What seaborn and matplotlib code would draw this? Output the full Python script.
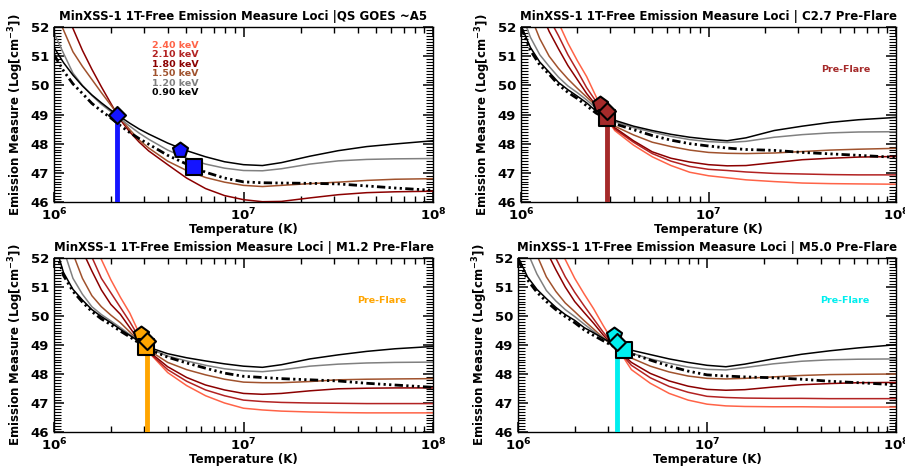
import matplotlib
matplotlib.use("Agg")
import matplotlib.pyplot as plt
import numpy as np
import pandas as pd
import seaborn as sns
from matplotlib.ticker import FixedLocator, LogLocator, MultipleLocator, NullFormatter

sns.set_style("ticks")
plt.rcParams["font.family"] = ["DejaVu Sans"]
plt.rcParams["font.weight"] = "bold"
plt.rcParams["mathtext.fontset"] = "dejavusans"
for key in ["text.color", "axes.labelcolor", "xtick.color", "ytick.color", "axes.edgecolor"]:
    plt.rcParams[key] = "black"
plt.rcParams["xtick.direction"] = "in"
plt.rcParams["ytick.direction"] = "in"

# temperature grid (log10 K) shared by all loci curves
log_temp = [6.0, 6.05, 6.1, 6.15, 6.2, 6.25, 6.3, 6.35, 6.4, 6.45, 6.5, 6.6, 6.7,
            6.8, 6.9, 7.0, 7.1, 7.2, 7.35, 7.5, 7.65, 7.8, 8.0]

energies = ["2.40 keV", "2.10 keV", "1.80 keV", "1.50 keV", "1.20 keV", "0.90 keV"]
energy_colors = ["#ff6347", "#b22222", "#8b0000", "#a0522d", "#808080", "#000000"]

# --- QS GOES ~A5 (only 4 loci) ---
qs_090 = [51.3, 50.78, 50.35, 49.98, 49.67, 49.4, 49.15, 48.92, 48.7, 48.5, 48.33, 48.02, 47.76,
          47.55, 47.38, 47.28, 47.25, 47.35, 47.57, 47.76, 47.9, 47.99, 48.1]
qs_120 = [51.8, 51.1, 50.42, 50.0, 49.65, 49.35, 49.1, 48.85, 48.6, 48.36, 48.15, 47.78, 47.5,
          47.3, 47.16, 47.08, 47.07, 47.14, 47.3, 47.41, 47.46, 47.48, 47.49]
qs_150 = [52.6, 51.9, 51.15, 50.65, 50.2, 49.75, 49.32, 48.88, 48.48, 48.12, 47.85, 47.4, 47.08,
          46.84, 46.68, 46.57, 46.53, 46.57, 46.63, 46.68, 46.74, 46.78, 46.8]
qs_180 = [53.5, 52.65, 51.95, 51.2, 50.55, 49.95, 49.38, 48.82, 48.4, 48.05, 47.75, 47.28, 46.82,
          46.46, 46.22, 46.08, 46.01, 46.02, 46.14, 46.25, 46.32, 46.35, 46.37]
qs_dash = [51.05, 50.5, 50.05, 49.72, 49.38, 49.12, 48.88, 48.62, 48.38, 48.17, 47.98, 47.6, 47.3,
           47.02, 46.82, 46.69, 46.66, 46.65, 46.64, 46.62, 46.55, 46.48, 46.4]

# --- C2.7 pre-flare ---
c27_090 = [52.05, 51.3, 50.8, 50.45, 50.1, 49.85, 49.63, 49.4, 49.12, 48.95, 48.8, 48.6, 48.45,
           48.32, 48.22, 48.15, 48.1, 48.2, 48.45, 48.6, 48.73, 48.82, 48.9]
c27_120 = [52.5, 51.65, 51.05, 50.65, 50.28, 49.98, 49.75, 49.5, 49.22, 48.95, 48.75, 48.55, 48.4,
           48.25, 48.14, 48.07, 48.04, 48.08, 48.22, 48.31, 48.37, 48.4, 48.41]
c27_150 = [53.2, 52.4, 51.6, 51.0, 50.58, 50.22, 49.9, 49.6, 49.3, 48.93, 48.6, 48.3, 48.05,
           47.9, 47.78, 47.7, 47.67, 47.66, 47.68, 47.73, 47.78, 47.81, 47.84]
c27_180 = [54.0, 53.3, 52.6, 51.85, 51.25, 50.68, 50.2, 49.72, 49.32, 48.92, 48.55, 48.1, 47.72,
           47.5, 47.37, 47.28, 47.24, 47.25, 47.35, 47.45, 47.5, 47.54, 47.56]
c27_210 = [54.5, 53.8, 53.0, 52.3, 51.7, 51.05, 50.5, 49.92, 49.45, 48.92, 48.5, 48.05, 47.66,
           47.4, 47.22, 47.12, 47.08, 47.03, 46.98, 46.96, 46.94, 46.93, 46.93]
c27_240 = [55.0, 54.3, 53.6, 52.9, 52.15, 51.45, 50.85, 50.3, 49.62, 48.93, 48.45, 47.95, 47.55,
           47.25, 47.02, 46.9, 46.83, 46.76, 46.7, 46.65, 46.63, 46.62, 46.61]
c27_dash = [52.0, 51.2, 50.7, 50.38, 50.02, 49.76, 49.55, 49.3, 49.05, 48.88, 48.68, 48.48, 48.28,
            48.12, 48.0, 47.92, 47.85, 47.8, 47.77, 47.7, 47.65, 47.6, 47.53]

# --- M1.2 pre-flare ---
m12_090 = [52.6, 51.5, 50.92, 50.55, 50.22, 49.98, 49.77, 49.54, 49.33, 49.12, 48.92, 48.7, 48.56,
           48.45, 48.35, 48.27, 48.23, 48.32, 48.52, 48.66, 48.78, 48.87, 48.95]
m12_120 = [53.0, 52.3, 51.3, 50.75, 50.32, 50.05, 49.83, 49.6, 49.36, 49.12, 48.88, 48.62, 48.45,
           48.3, 48.18, 48.11, 48.08, 48.14, 48.27, 48.34, 48.38, 48.4, 48.41]
m12_150 = [53.5, 52.8, 52.15, 51.3, 50.7, 50.32, 50.03, 49.77, 49.45, 49.12, 48.82, 48.4, 48.15,
           47.97, 47.82, 47.72, 47.7, 47.7, 47.74, 47.8, 47.82, 47.83, 47.84]
m12_180 = [54.3, 53.6, 52.9, 52.25, 51.55, 50.9, 50.4, 50.06, 49.6, 49.15, 48.78, 48.25, 47.88,
           47.62, 47.45, 47.33, 47.3, 47.33, 47.42, 47.49, 47.51, 47.52, 47.52]
m12_210 = [54.8, 54.1, 53.4, 52.7, 52.03, 51.3, 50.8, 50.3, 49.8, 49.25, 48.75, 48.15, 47.75,
           47.45, 47.25, 47.1, 47.05, 47.02, 47.0, 46.99, 46.98, 46.98, 46.98]
m12_240 = [55.3, 54.6, 53.9, 53.2, 52.6, 51.95, 51.25, 50.65, 50.1, 49.4, 48.75, 48.05, 47.6,
           47.25, 47.0, 46.82, 46.76, 46.72, 46.69, 46.67, 46.66, 46.66, 46.66]
m12_dash = [52.45, 51.4, 50.85, 50.48, 50.15, 49.9, 49.7, 49.48, 49.28, 49.06, 48.85, 48.58, 48.38,
            48.2, 48.03, 47.92, 47.88, 47.84, 47.8, 47.76, 47.68, 47.62, 47.54]

# --- M5.0 pre-flare ---
m50_090 = [52.05, 51.35, 50.92, 50.6, 50.3, 50.05, 49.85, 49.6, 49.42, 49.23, 49.05, 48.82, 48.67,
           48.52, 48.4, 48.3, 48.25, 48.34, 48.52, 48.68, 48.8, 48.9, 49.01]
m50_120 = [52.9, 52.2, 51.45, 50.88, 50.52, 50.22, 49.98, 49.72, 49.47, 49.24, 49.02, 48.72, 48.52,
           48.37, 48.24, 48.16, 48.14, 48.22, 48.35, 48.44, 48.49, 48.51, 48.52]
m50_150 = [53.5, 52.8, 52.1, 51.35, 50.85, 50.45, 50.15, 49.84, 49.55, 49.25, 48.98, 48.55, 48.27,
           48.07, 47.93, 47.85, 47.83, 47.85, 47.9, 47.95, 47.98, 47.99, 48.0]
m50_180 = [54.3, 53.6, 52.9, 52.25, 51.6, 51.0, 50.5, 50.12, 49.75, 49.35, 49.0, 48.4, 48.02,
           47.76, 47.58, 47.47, 47.44, 47.46, 47.55, 47.63, 47.67, 47.7, 47.71]
m50_210 = [54.8, 54.1, 53.4, 52.7, 52.0, 51.35, 50.82, 50.35, 49.9, 49.45, 49.05, 48.3, 47.87,
           47.57, 47.37, 47.23, 47.19, 47.17, 47.16, 47.16, 47.15, 47.15, 47.15]
m50_240 = [55.3, 54.6, 53.9, 53.2, 52.6, 51.95, 51.3, 50.76, 50.25, 49.68, 49.15, 48.15, 47.68,
           47.33, 47.1, 46.96, 46.9, 46.88, 46.87, 46.87, 46.86, 46.86, 46.86]
m50_dash = [51.95, 51.25, 50.82, 50.5, 50.22, 49.98, 49.77, 49.52, 49.33, 49.15, 48.97, 48.7, 48.48,
            48.27, 48.1, 47.97, 47.93, 47.9, 47.87, 47.82, 47.75, 47.7, 47.63]

# markers: pentagon, square, diamond (T in K, log EM); bar drawn at the diamond
qs_marker_t = [4.60e6, 5.50e6, 2.15e6]
qs_marker_em = [47.79, 47.19, 48.98]
c27_marker_t = [2.64e6, 2.88e6, 2.88e6]
c27_marker_em = [49.37, 48.89, 49.12]
m12_marker_t = [2.89e6, 3.05e6, 3.08e6]
m12_marker_em = [49.38, 48.92, 49.15]
m50_marker_t = [3.21e6, 3.64e6, 3.33e6]
m50_marker_em = [49.36, 48.84, 49.10]

titles = ["MinXSS-1 1T-Free Emission Measure Loci |QS GOES ~A5",
          "MinXSS-1 1T-Free Emission Measure Loci | C2.7 Pre-Flare",
          "MinXSS-1 1T-Free Emission Measure Loci | M1.2 Pre-Flare",
          "MinXSS-1 1T-Free Emission Measure Loci | M5.0 Pre-Flare"]
panel_colors = ["#1414ff", "#a52a2a", "#ffa500", "#00eeee"]

temps = 10 ** np.array(log_temp)

panels = [
    ([None, None, qs_180, qs_150, qs_120, qs_090], qs_dash, qs_marker_t, qs_marker_em),
    ([c27_240, c27_210, c27_180, c27_150, c27_120, c27_090], c27_dash, c27_marker_t, c27_marker_em),
    ([m12_240, m12_210, m12_180, m12_150, m12_120, m12_090], m12_dash, m12_marker_t, m12_marker_em),
    ([m50_240, m50_210, m50_180, m50_150, m50_120, m50_090], m50_dash, m50_marker_t, m50_marker_em),
]

fig = plt.figure(figsize=(9.05, 4.70), dpi=100)
axes_rects = [[54 / 905, 1 - 202 / 470, 379 / 905, 175 / 470],
              [521 / 905, 1 - 202 / 470, 375 / 905, 175 / 470],
              [54 / 905, 1 - 432 / 470, 379 / 905, 174 / 470],
              [518 / 905, 1 - 432 / 470, 378 / 905, 174 / 470]]

for i, (curves, dash, mk_t, mk_em) in enumerate(panels):
    ax = fig.add_axes(axes_rects[i])
    col = panel_colors[i]
    for em, c in zip(curves, energy_colors):
        if em is None:
            continue
        df = pd.DataFrame({"T": temps, "EM": em})
        sns.lineplot(data=df, x="T", y="EM", ax=ax, color=c, lw=1.1,
                     estimator=None, sort=False, zorder=2)
    sns.lineplot(x=temps, y=dash, ax=ax, color="black", lw=2.0, estimator=None,
                 sort=False, zorder=3, linestyle=(0, (3, 1.2, 0.8, 1.2, 0.8, 1.2, 0.8, 1.2)))
    ax.vlines(mk_t[2], 46, mk_em[2], color=col, lw=3.5, zorder=4)
    for t, e, m, s in zip(mk_t, mk_em, ["p", "s", "D"], [130, 130, 75]):
        sns.scatterplot(x=[t], y=[e], ax=ax, marker=m, s=s, color=col,
                        edgecolor="black", linewidth=1.5, zorder=5)

    ax.set_xscale("log")
    ax.set_xlim(1e6, 1e8)
    ax.set_ylim(46, 52)
    ax.xaxis.set_major_locator(FixedLocator([1e6, 1e7, 1e8]))
    ax.xaxis.set_minor_locator(LogLocator(base=10, subs=np.arange(2, 10), numticks=20))
    ax.xaxis.set_minor_formatter(NullFormatter())
    ax.yaxis.set_major_locator(MultipleLocator(1))
    ax.yaxis.set_minor_locator(MultipleLocator(0.1))
    ax.tick_params(which="both", direction="in", top=True, right=True, color="black")
    ax.tick_params(which="major", length=7, width=1.1, labelsize=9.5)
    ax.tick_params(axis="x", which="minor", length=4, width=1.0)
    ax.tick_params(axis="y", which="minor", length=5, width=0.8)
    ax.set_xticklabels([r"$\mathbf{10^{6}}$", r"$\mathbf{10^{7}}$", r"$\mathbf{10^{8}}$"])
    for lab in ax.get_yticklabels():
        lab.set_fontweight("bold")
    ax.set_xlabel("Temperature (K)", fontsize=8.5, fontweight="bold", labelpad=0)
    ax.set_ylabel(r"Emission Measure (Log[cm$^{\mathbf{-3}}$])", fontsize=8.5,
                  fontweight="bold", labelpad=3)
    ax.set_title(titles[i], fontsize=8.5, fontweight="bold", pad=5)
    for sp in ax.spines.values():
        sp.set_linewidth(1.0)
        sp.set_color("black")

    if i == 0:
        for k, (lab, c) in enumerate(zip(energies, energy_colors)):
            ax.text(0.2586, 0.897 - k * 0.0545, lab, color=c, fontsize=6.8,
                    fontweight="bold", transform=ax.transAxes, ha="left", va="center")
    else:
        ax.text(0.865, 0.755, "Pre-Flare", color=col, fontsize=6.8, fontweight="bold",
                transform=ax.transAxes, ha="center", va="center")

fig.savefig("out.png", dpi=100)
